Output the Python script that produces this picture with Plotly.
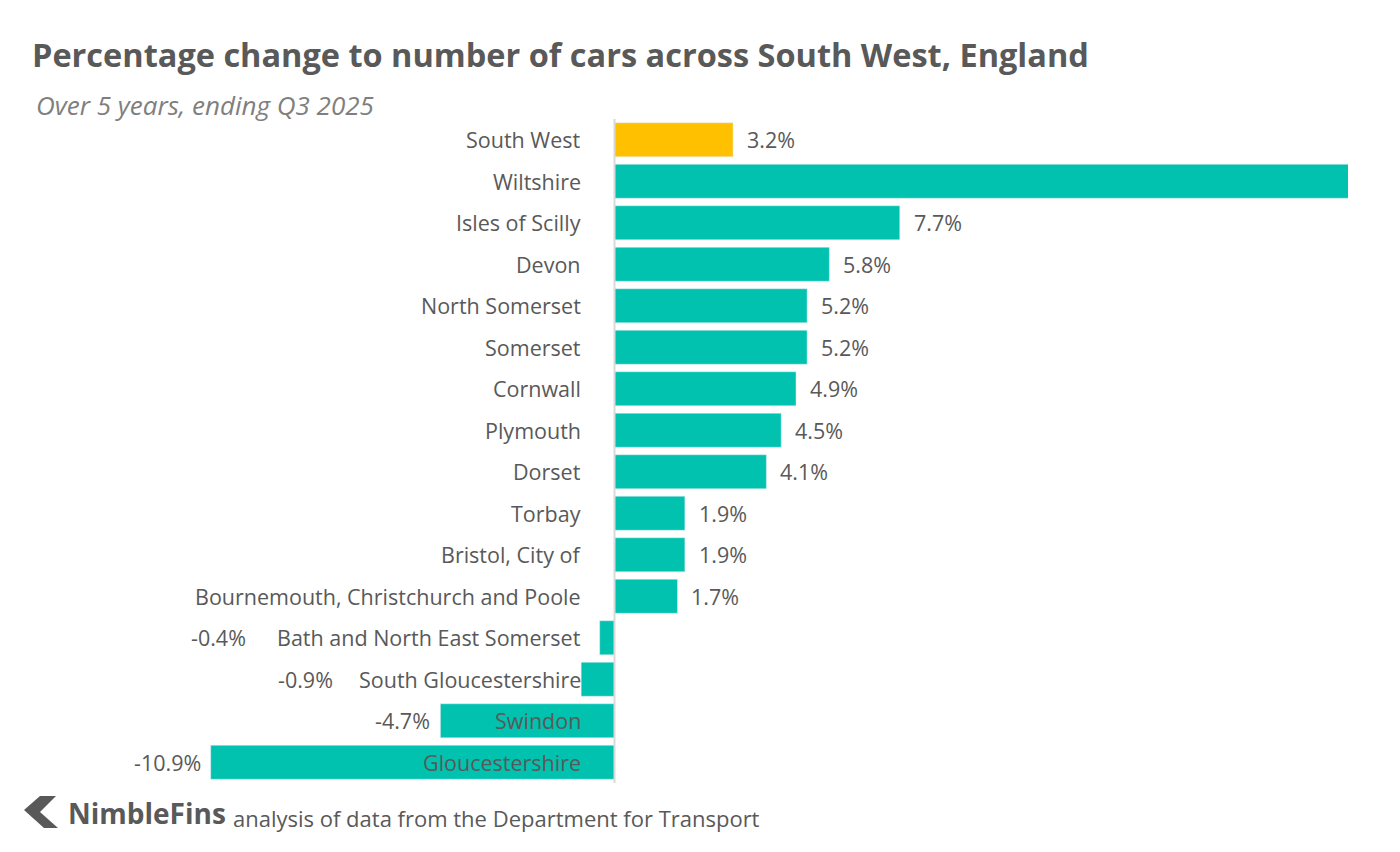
import plotly.graph_objects as go

regions = ["South West", "Wiltshire", "Isles of Scilly", "Devon", "North Somerset", "Somerset",
           "Cornwall", "Plymouth", "Dorset", "Torbay", "Bristol, City of",
           "Bournemouth, Christchurch and Poole", "Bath and North East Somerset",
           "South Gloucestershire", "Swindon", "Gloucestershire"]
values = [3.2, 19.9, 7.7, 5.8, 5.2, 5.2, 4.9, 4.5, 4.1, 1.9, 1.9, 1.7, -0.4, -0.9, -4.7, -10.9]
colors = ["#FFC000"] + ["#00C2AE"] * 15

XMIN, XMAX = -11.0, 19.8
W, H = 1400, 852
OFF = 8
L, R, T, B = 207 - OFF, 52 + OFF, 119 - OFF, 69 + OFF
gray = "#595959"
font = "Open Sans"
fs = 21.5

fig = go.Figure(go.Bar(y=regions, x=values, orientation="h", marker_color=colors,
                       hoverinfo="skip"))

ann = []
neg_shift = {"Bath and North East Somerset": -352, "South Gloucestershire": -246}
for r, v in zip(regions, values):
    ann.append(dict(x=0, y=r, text=r, xref="x", yref="y", xanchor="right", xshift=-32,
                    showarrow=False, font=dict(size=fs, color=gray, family=font)))
    if v > XMAX:
        continue
    if v >= 0:
        ann.append(dict(x=v, y=r, text=f"{v:.1f}%", xanchor="left", xshift=12,
                        showarrow=False, font=dict(size=fs, color=gray, family=font)))
    else:
        ann.append(dict(x=v, y=r, text=f"{v:.1f}%", xanchor="right",
                        xshift=neg_shift.get(r, -8),
                        showarrow=False, font=dict(size=fs, color=gray, family=font)))

pw, ph = W - L - R, H - T - B
def px(x): return (x - OFF - L) / pw
def py(y): return (H - B - (y - OFF)) / ph

ann += [
    dict(xref="paper", yref="paper", x=px(30), y=py(55), xanchor="left", yanchor="middle",
         text="<b>Percentage change to number of cars across South West, England</b>",
         showarrow=False, font=dict(size=32.5, color=gray, family=font)),
    dict(xref="paper", yref="paper", x=px(34), y=py(105), xanchor="left", yanchor="middle",
         text="<i>Over 5 years, ending Q3 2025</i>",
         showarrow=False, font=dict(size=26, color="#7f7f7f", family=font)),
    dict(xref="paper", yref="paper", x=px(66), y=py(813), xanchor="left", yanchor="middle",
         text="<b>NimbleFins</b>", showarrow=False,
         font=dict(size=28, color=gray, family=font)),
    dict(xref="paper", yref="paper", x=px(231), y=py(818), xanchor="left", yanchor="middle",
         text="analysis of data from the Department for Transport", showarrow=False,
         font=dict(size=22, color=gray, family=font)),
]

logo = (f"M {px(40)},{py(796)} L {px(56)},{py(796)} L {px(40)},{py(812)} "
        f"L {px(58)},{py(828)} L {px(44)},{py(828)} L {px(24)},{py(810)} Z")

fig.update_layout(
    width=W, height=H, margin=dict(l=L, r=R, t=T, b=B),
    paper_bgcolor="white", plot_bgcolor="white", showlegend=False,
    bargap=0.18, annotations=ann,
    shapes=[dict(type="path", path=logo, xref="paper", yref="paper",
                 fillcolor="#595959", line=dict(width=0)),
            dict(type="line", x0=0, x1=0, y0=0, y1=1, xref="x", yref="paper",
                 line=dict(color="#d9d9d9", width=2))],
    xaxis=dict(range=[XMIN, XMAX], visible=False, fixedrange=True),
    yaxis=dict(autorange="reversed", visible=False),
)
fig.write_html("out.html")
